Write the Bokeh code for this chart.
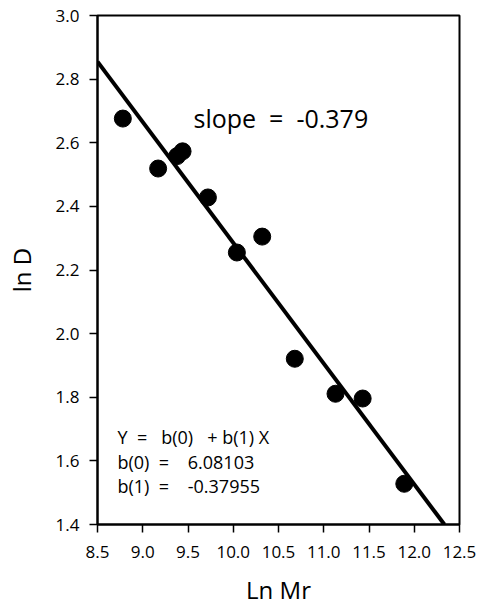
from bokeh.plotting import figure
from bokeh.models import ColumnDataSource, FixedTicker, NumeralTickFormatter, Label
from bokeh.embed import file_html
from bokeh.resources import INLINE

# data
ln_mr = [8.78, 9.17, 9.38, 9.44, 9.72, 10.04, 10.32, 10.68, 11.13, 11.43, 11.89]
ln_d = [2.676, 2.519, 2.558, 2.573, 2.428, 2.255, 2.305, 1.921, 1.811, 1.796, 1.528]
b0 = 6.08103
b1 = -0.37955
x_ticks = [8.5, 9.0, 9.5, 10.0, 10.5, 11.0, 11.5, 12.0, 12.5]
y_ticks = [1.4, 1.6, 1.8, 2.0, 2.2, 2.4, 2.6, 2.8, 3.0]
NB = "\u00a0"
eq_lines = ["Y" + NB * 2 + "=" + NB * 3 + "b(0)" + NB * 3 + "+" + NB + "b(1)" + NB + "X",
            "b(0)" + NB * 2 + "=" + NB * 4 + "6.08103",
            "b(1)" + NB * 2 + "=" + NB * 4 + "-0.37955"]
slope_text = "slope" + NB * 2 + "=" + NB * 2 + "-0.379"
x_title = "Ln Mr"
y_title = "ln D"

FONT = "Open Sans"

p = figure(frame_width=362, frame_height=509, x_range=(8.5, 12.5), y_range=(1.4, 3.0),
           output_backend="svg", toolbar_location=None,
           min_border_left=97, min_border_right=18, min_border_top=15, min_border_bottom=84)
p.background_fill_color = "white"
p.border_fill_color = "white"
p.outline_line_color = "black"
p.outline_line_width = 2
p.xgrid.visible = False
p.ygrid.visible = False

for ax in (p.xaxis[0], p.yaxis[0]):
    ax.axis_line_color = "black"
    ax.axis_line_width = 2
    ax.major_tick_in = 0
    ax.major_tick_out = 8
    ax.major_tick_line_width = 1.5
    ax.major_tick_line_color = "black"
    ax.minor_tick_line_color = None
    ax.major_label_text_font = FONT
    ax.major_label_text_font_size = "17px"
    ax.major_label_text_color = "black"
    ax.axis_label_text_font = FONT
    ax.axis_label_text_font_size = "24px"
    ax.axis_label_text_font_style = "normal"
    ax.axis_label_text_color = "black"
    ax.formatter = NumeralTickFormatter(format="0.0")

p.xaxis.ticker = FixedTicker(ticks=x_ticks)
p.yaxis.ticker = FixedTicker(ticks=y_ticks)
p.xaxis.axis_label = x_title
p.yaxis.axis_label = y_title
p.xaxis.major_label_standoff = 13
p.yaxis.major_label_standoff = 10
p.xaxis.axis_label_standoff = 12
p.yaxis.axis_label_standoff = 15

# regression line from coefficients, across the frame
x_start = x_ticks[0]
x_end = (y_ticks[0] - b0) / b1
line_src = ColumnDataSource(dict(x=[x_start, x_end], y=[b0 + b1 * x_start, b0 + b1 * x_end]))
p.line("x", "y", source=line_src, line_color="black", line_width=4)

pts = ColumnDataSource(dict(x=ln_mr, y=ln_d))
p.scatter("x", "y", source=pts, size=17, fill_color="black", line_color="black")

p.add_layout(Label(x=9.561, y=2.678, text=slope_text, text_font=FONT,
                   text_font_size="25px", text_color="black", text_baseline="alphabetic"))
for t, yy in zip(eq_lines, [1.674, 1.595, 1.520]):
    p.add_layout(Label(x=8.721, y=yy, text=t, text_font=FONT, text_font_size="18px",
                       text_color="black", text_baseline="alphabetic"))

open("out.html", "w").write(file_html(p, INLINE))
